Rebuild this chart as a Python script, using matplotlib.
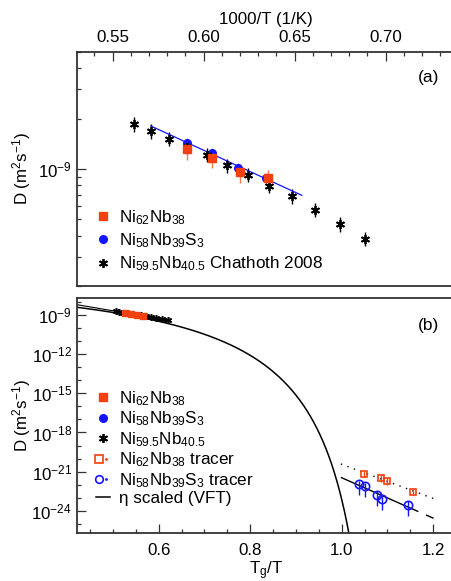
import numpy as np
import matplotlib.pyplot as plt
from matplotlib.lines import Line2D
from matplotlib.legend_handler import HandlerTuple
from matplotlib.ticker import FixedLocator, NullFormatter, LogLocator, FuncFormatter, MultipleLocator, FormatStrFormatter

plt.rcParams['font.family'] = 'Liberation Sans'
plt.rcParams['mathtext.fontset'] = 'custom'
plt.rcParams['mathtext.rm'] = 'Liberation Sans'
plt.rcParams['mathtext.it'] = 'Liberation Sans:italic'
plt.rcParams['mathtext.bf'] = 'Liberation Sans:bold'

# high temperature data, x = 1000/T (1/K), D in m^2/s
chat_x = [0.5617, 0.5709, 0.5809, 0.5912, 0.6018, 0.6130, 0.6242, 0.6360, 0.6487, 0.6611, 0.6749, 0.6886]
chat_D = [1.85e-9, 1.68e-9, 1.52e-9, 1.36e-9, 1.22e-9, 1.05e-9, 0.924e-9, 0.797e-9, 0.686e-9, 0.571e-9, 0.470e-9, 0.383e-9]
nb_x = [0.5907, 0.6049, 0.6199, 0.6352]
nb_D = [1.31e-9, 1.17e-9, 0.954e-9, 0.879e-9]
nbs_x = [0.5907, 0.6047, 0.6190, 0.6346]
nbs_D = [1.44e-9, 1.25e-9, 1.01e-9, 0.883e-9]
# relative errors
chat_err = 0.10
nb_err = 0.13
nbs_err = 0.07

# glass transition temperatures (K)
Tg_chat = 900.0
Tg_nb = 890.0
Tg_nbs = 890.0

# tracer data, x = Tg/T
nb_tr_x = [1.048, 1.085, 1.099, 1.156]
nb_tr_D = [7.2e-22, 3.5e-22, 2.0e-22, 3.0e-23]
nbs_tr_x = [1.038, 1.050, 1.076, 1.088, 1.144]
nbs_tr_D = [1.12e-22, 7.8e-23, 1.7e-23, 7.9e-24, 2.9e-24]
nb_tr_err = 0.5
nbs_tr_err = 0.85

# VFT scaled from viscosity: log10 D = A - B / (T/Tg - t0)
vft_A = -7.23
vft_B = 1.75
vft_t0 = 0.89

red = '#f2400e'
blue = '#1414ff'
star = (6, 2, 0)
fs = 12.2

fig = plt.figure(figsize=(4.52, 5.81), dpi=100)
ax1 = fig.add_axes([0.1704, 0.5077, 0.8363, 0.4028])
ax2 = fig.add_axes([0.1704, 0.0826, 0.8363, 0.4045])

# ---------- panel (a)
ax1.errorbar(chat_x, chat_D, yerr=chat_err * np.array(chat_D), fmt='none', ecolor='k', elinewidth=1, zorder=2)
ax1.errorbar(nbs_x, nbs_D, yerr=nbs_err * np.array(nbs_D), fmt='none', ecolor='#7a7aff', elinewidth=1, zorder=2)
ax1.errorbar(nb_x, nb_D, yerr=nb_err * np.array(nb_D), fmt='none', ecolor='#f57a50', elinewidth=1, zorder=2)
ax1.plot(nbs_x, nbs_D, 'o', color=blue, ms=5.5, zorder=3)
ax1.plot(chat_x, chat_D, ls='none', marker=star, color='k', ms=6.5, mew=1.3, zorder=4)
ax1.plot(nb_x, nb_D, 's', color=red, ms=5.5, zorder=5)

# Arrhenius fit of the Ni58Nb39S3 data
p = np.polyfit(nbs_x, np.log10(nbs_D), 1)
xf = np.linspace(0.571, 0.654, 20)
ax1.plot(xf, 10 ** np.polyval(p, xf), color=blue, lw=0.9, zorder=3)

ax1.set_yscale('log')
ax1.set_xlim(0.5305, 0.7382)
ax1.set_ylim(2e-10, 5e-9)
ax1.xaxis.tick_top()
ax1.xaxis.set_label_position('top')
ax1.xaxis.set_major_locator(MultipleLocator(0.05))
ax1.xaxis.set_minor_locator(MultipleLocator(0.01))
ax1.xaxis.set_major_formatter(FormatStrFormatter('%.2f'))
ax1.yaxis.set_major_locator(FixedLocator([1e-9]))
ax1.yaxis.set_minor_locator(LogLocator(base=10, subs=np.arange(2, 10)))
ax1.yaxis.set_minor_formatter(NullFormatter())
ax1.yaxis.set_major_formatter(FuncFormatter(lambda v, pos: r'$10^{%d}$' % round(np.log10(v))))
ax1.set_xlabel('1000/T (1/K)', fontsize=fs, labelpad=4)
ax1.set_ylabel(r'D (m$^2$s$^{-1}$)', fontsize=fs)
ax1.yaxis.set_label_coords(-0.116, 0.5)
ax1.text(0.931, 0.893, '(a)', transform=ax1.transAxes, ha='center', va='center', fontsize=12.5)

h1 = [Line2D([], [], ls='none', marker='s', color=red, ms=5.5),
      Line2D([], [], ls='none', marker='o', color=blue, ms=5.5),
      Line2D([], [], ls='none', marker=star, color='k', ms=6.5, mew=1.3)]
l1 = [r'Ni$_{62}$Nb$_{38}$', r'Ni$_{58}$Nb$_{39}$S$_3$', r'Ni$_{59.5}$Nb$_{40.5}$ Chathoth 2008']
ax1.legend(h1, l1, loc='center left', bbox_to_anchor=(0.05, 0.194), frameon=False, fontsize=12.3,
           handlelength=0.8, handletextpad=0.55, labelspacing=0.27, borderpad=0, borderaxespad=0, numpoints=1)

# ---------- panel (b)
chat_u = Tg_chat * np.array(chat_x) / 1000
nb_u = Tg_nb * np.array(nb_x) / 1000
nbs_u = Tg_nbs * np.array(nbs_x) / 1000

u = np.linspace(0.40, 1.03, 600)
t = 1 / u
ax2.plot(u, 10 ** (vft_A - vft_B / (t - vft_t0)), color='k', lw=1.1, zorder=2)

# Arrhenius line of the high temperature data extended
pc = np.polyfit(chat_u, np.log10(chat_D), 1)
uc = np.linspace(0.40, chat_u.max(), 20)
ax2.plot(uc, 10 ** np.polyval(pc, uc), color='k', lw=0.8, zorder=2)

ax2.plot(nbs_u, nbs_D, 'o', color=blue, ms=4, zorder=3)
ax2.plot(chat_u, chat_D, ls='none', marker=star, color='k', ms=5, mew=1.1, zorder=4)
ax2.plot(nb_u, nb_D, 's', color=red, ms=4, zorder=5)

ax2.errorbar(nb_tr_x, nb_tr_D, yerr=nb_tr_err * np.array(nb_tr_D), fmt='s', mfc='none', mec=red, mew=1.2,
             ms=5, ecolor=red, elinewidth=1, zorder=4)
ax2.errorbar(nbs_tr_x, nbs_tr_D, yerr=nbs_tr_err * np.array(nbs_tr_D), fmt='o', mfc='none', mec=blue, mew=1.2,
             ms=6, ecolor=blue, elinewidth=1, zorder=4)

uf = np.linspace(0.998, 1.203, 20)
pr = np.polyfit(nb_tr_x, np.log10(nb_tr_D), 1)
ax2.plot(uf, 10 ** np.polyval(pr, uf), color='k', lw=1, dashes=(1, 4), zorder=3)
pb = np.polyfit(nbs_tr_x, np.log10(nbs_tr_D), 1)
ax2.plot(uf, 10 ** np.polyval(pb, uf), color='k', lw=1, dashes=(61, 6, 6, 6), zorder=3)

ax2.set_yscale('log')
ax2.set_xlim(0.4214, 1.2476)
ax2.set_ylim(2e-26, 2e-8)
ax2.xaxis.set_major_locator(MultipleLocator(0.2))
ax2.xaxis.set_minor_locator(MultipleLocator(0.05))
ax2.xaxis.set_major_formatter(FormatStrFormatter('%.1f'))
ax2.yaxis.set_major_locator(FixedLocator([10.0 ** k for k in range(-24, -8, 3)]))
ax2.yaxis.set_minor_locator(FixedLocator([10.0 ** k for k in range(-26, -7)]))
ax2.yaxis.set_minor_formatter(NullFormatter())
ax2.yaxis.set_major_formatter(FuncFormatter(lambda v, pos: r'$10^{%d}$' % round(np.log10(v))))
ax2.set_xlabel(r'T$_\mathrm{g}$/T', fontsize=fs, labelpad=1.5)
ax2.set_ylabel(r'D (m$^2$s$^{-1}$)', fontsize=fs)
ax2.yaxis.set_label_coords(-0.116, 0.5)
ax2.text(0.931, 0.885, '(b)', transform=ax2.transAxes, ha='center', va='center', fontsize=12.5)

dot_r = Line2D([], [], ls='none', marker='.', color=red, ms=2)
dot_b = Line2D([], [], ls='none', marker='.', color=blue, ms=2)
h2 = [Line2D([], [], ls='none', marker='s', color=red, ms=5.5),
      Line2D([], [], ls='none', marker='o', color=blue, ms=5.5),
      Line2D([], [], ls='none', marker=star, color='k', ms=6.5, mew=1.3),
      (Line2D([], [], ls='none', marker='s', mfc='none', mec=red, mew=1.2, ms=5.5), dot_r),
      (Line2D([], [], ls='none', marker='o', mfc='none', mec=blue, mew=1.2, ms=5.5), dot_b),
      Line2D([], [], color='k', lw=1.1)]
l2 = [r'Ni$_{62}$Nb$_{38}$', r'Ni$_{58}$Nb$_{39}$S$_3$', r'Ni$_{59.5}$Nb$_{40.5}$',
      r'Ni$_{62}$Nb$_{38}$ tracer', r'Ni$_{58}$Nb$_{39}$S$_3$ tracer', 'η scaled (VFT)']
ax2.legend(h2, l2, loc='center left', bbox_to_anchor=(0.05, 0.3626), frameon=False, fontsize=12.3,
           handlelength=0.8, handletextpad=0.55, labelspacing=0.1, borderpad=0, borderaxespad=0, numpoints=1,
           handler_map={tuple: HandlerTuple(ndivide=None)})

for ax in (ax1, ax2):
    for s in ax.spines.values():
        s.set_color('#333333')
        s.set_linewidth(1.3)
    ax.tick_params(which='both', direction='in', labelsize=fs, width=0.9, color='#333333')
    ax.tick_params(which='major', length=6.5)
    ax.tick_params(which='minor', length=3)
    ax.spines['right'].set_visible(False)

ax1.tick_params(axis='x', which='both', top=True, bottom=False, pad=5)
ax1.tick_params(axis='y', which='both', left=True, right=False, pad=3.5)
ax2.tick_params(axis='x', which='both', top=False, bottom=True, pad=7)
ax2.tick_params(axis='y', which='both', left=True, right=False, pad=3.5)

fig.savefig('out.png', dpi=100)
